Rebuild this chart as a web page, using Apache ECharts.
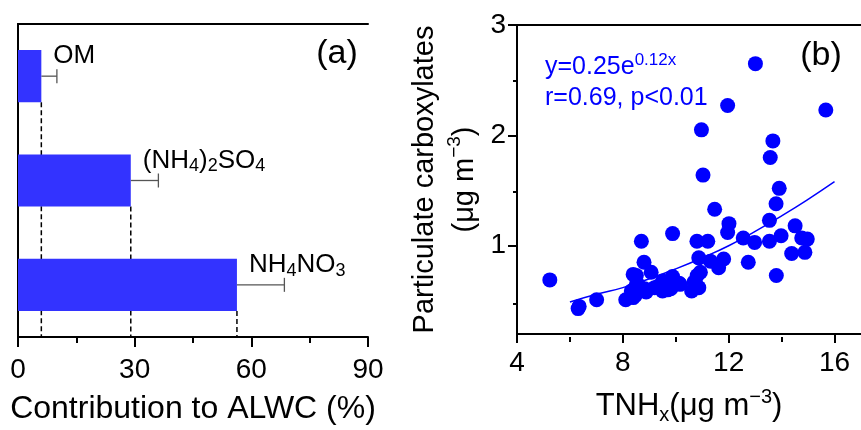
<!DOCTYPE html>
<html><head><meta charset="utf-8">
<script src="https://cdn.jsdelivr.net/npm/echarts@6/dist/echarts.min.js"></script>
<style>html,body{margin:0;padding:0;background:#fff}#c{width:861px;height:430px}</style>
</head><body><div id="c"></div>
<script>
// ---- data ----
const components = ['OM', '(NH4)2SO4', 'NH4NO3'];
const componentLabels = ['OM', '(NH{s|4}){s|2}SO{s|4}', 'NH{s|4}NO{s|3}'];
const contribution = [6.0, 29.0, 56.3];
const contributionErr = [4.0, 7.1, 12.2];
const contributionTicks = [0, 30, 60, 90];

const tnhx = [5.24, 6.31, 6.35, 7.01, 8.11, 8.39, 8.32, 8.47, 8.51, 8.39, 8.51, 8.57, 8.70, 8.80, 8.82, 8.88,
  9.07, 9.20, 9.32, 9.50, 9.57, 9.50, 9.69, 9.81, 9.88, 9.88, 10.13, 10.16, 10.60, 10.69, 10.75, 10.87,
  10.81, 10.93, 10.87, 10.80, 11.21, 11.03, 10.97, 11.31, 11.62, 11.81, 11.47, 11.96, 12.01, 11.96,
  12.55, 12.74, 12.98, 13.01, 13.54, 13.54, 13.57, 13.67, 13.79, 13.91, 13.80, 13.98, 14.38, 14.51,
  14.76, 14.97, 14.88, 15.67];
const carboxylates = [0.69, 0.43, 0.45, 0.51, 0.51, 0.53, 0.59, 0.55, 0.65, 0.74, 0.73, 0.65, 1.04, 0.85, 0.61, 0.58,
  0.76, 0.62, 0.63, 0.68, 0.65, 0.59, 0.60, 0.61, 0.72, 1.11, 0.66, 0.65, 0.59, 0.67, 0.66, 0.62,
  0.73, 0.76, 0.89, 1.04, 1.04, 1.64, 2.05, 0.86, 0.80, 0.88, 1.33, 1.12, 1.20, 2.27,
  1.07, 0.85, 1.03, 2.65, 1.04, 1.23, 1.80, 1.95, 1.38, 1.52, 0.73, 1.09, 0.93, 1.18,
  1.07, 1.06, 0.94, 2.23];
const fitX = [6, 7, 8, 9, 10, 11, 12, 13, 14, 15, 16];
const fitY = [0.49, 0.56, 0.62, 0.70, 0.79, 0.89, 1.00, 1.13, 1.27, 1.42, 1.58];
const tnhxTicks = [4, 8, 12, 16];
const tnhxMinorTicks = [6, 10, 14];
const carbTicks = [1, 2, 3];
const carbMinorTicks = [0.5, 1.5, 2.5];

// ---- chart ----
const FF = 'Liberation Sans, Arial, sans-serif';
const BLUE = '#0000FF';
const BAR = '#3333FF';
const axisLine = { show: true, lineStyle: { color: '#000', width: 2 } };
const chart = echarts.init(document.getElementById('c'), null, { renderer: 'canvas' });

const borderOnly = {
  axisLine: axisLine, axisTick: { show: false }, axisLabel: { show: false },
  splitLine: { show: false }
};

const option = {
  animation: false,
  backgroundColor: '#fff',
  textStyle: { fontFamily: FF, color: '#000' },
  grid: [
    { left: 18, top: 24, width: 350, height: 314 },
    { left: 517, top: 25, width: 349, height: 312 },
    { left: 517, top: 25, width: 349, height: 312 }
  ],
  xAxis: [
    {
      gridIndex: 0, type: 'value', min: 0, max: 90, interval: 30, position: 'bottom',
      axisLine: axisLine,
      axisTick: { show: true, length: 10, lineStyle: { color: '#000', width: 2 } },
      minorTick: { show: true, splitNumber: 2, length: 6, lineStyle: { color: '#000', width: 2 } },
      axisLabel: { fontSize: 28, color: '#000', margin: 19, fontFamily: FF,
        customValues: contributionTicks },
      splitLine: { show: false }, minorSplitLine: { show: false },
      name: 'Contribution to ALWC (%)', nameLocation: 'middle', nameGap: 56,
      nameTextStyle: { fontSize: 32, color: '#000', fontFamily: FF }
    },
    Object.assign({ gridIndex: 0, type: 'value', min: 0, max: 90, position: 'top' }, borderOnly),
    {
      gridIndex: 1, type: 'value', min: 4, max: 17, position: 'bottom',
      axisLine: axisLine,
      axisTick: { show: true, length: 9, customValues: tnhxTicks, lineStyle: { color: '#000', width: 2 } },
      axisLabel: { fontSize: 28, color: '#000', margin: 15, fontFamily: FF, customValues: tnhxTicks },
      splitLine: { show: false },
      name: 'TNH{sub|x}(μg m{sup|−3})', nameLocation: 'middle', nameGap: 53,
      nameTextStyle: {
        fontSize: 31, lineHeight: 38, color: '#000', fontFamily: FF,
        rich: {
          sub: { fontSize: 20, lineHeight: 20, verticalAlign: 'bottom', fontFamily: FF, color: '#000' },
          sup: { fontSize: 20, lineHeight: 16, verticalAlign: 'top', fontFamily: FF, color: '#000' }
        }
      }
    },
    Object.assign({ gridIndex: 1, type: 'value', min: 4, max: 17, position: 'top' }, borderOnly),
    {
      gridIndex: 2, type: 'value', min: 4, max: 17, position: 'bottom',
      axisLine: { show: false },
      axisTick: { show: true, length: 5, customValues: tnhxMinorTicks, lineStyle: { color: '#000', width: 2 } },
      axisLabel: { show: false }, splitLine: { show: false }
    }
  ],
  yAxis: [
    {
      gridIndex: 0, type: 'category', data: components, inverse: true, position: 'left',
      axisLine: axisLine, axisTick: { show: false }, axisLabel: { show: false }, splitLine: { show: false }
    },
    Object.assign({ gridIndex: 0, type: 'value', min: 0, max: 1, position: 'right' }, borderOnly),
    {
      gridIndex: 1, type: 'value', min: 0.2, max: 3, position: 'left',
      axisLine: axisLine,
      axisTick: { show: true, length: 9, customValues: carbTicks, lineStyle: { color: '#000', width: 2 } },
      axisLabel: { fontSize: 28, color: '#000', margin: 11, fontFamily: FF, customValues: carbTicks },
      splitLine: { show: false },
      name: 'Particulate carboxylates\n(μg m{sup|−3})', nameLocation: 'middle', nameGap: 32,
      nameTextStyle: {
        fontSize: 29, lineHeight: 40, color: '#000', fontFamily: FF, align: 'center',
        rich: { sup: { fontSize: 19, lineHeight: 18, verticalAlign: 'top', fontFamily: FF, color: '#000' } }
      }
    },
    {
      gridIndex: 2, type: 'value', min: 0.2, max: 3, position: 'left',
      axisLine: { show: false },
      axisTick: { show: true, length: 4, customValues: carbMinorTicks, lineStyle: { color: '#000', width: 2 } },
      axisLabel: { show: false }, splitLine: { show: false }
    }
  ],
  series: [
    {
      type: 'bar', xAxisIndex: 0, yAxisIndex: 0, data: contribution,
      barWidth: '50%', itemStyle: { color: BAR }, silent: true
    },
    {
      type: 'custom', xAxisIndex: 0, yAxisIndex: 0,
      data: contribution.map((v, i) => [i, v, contributionErr[i]]),
      encode: { x: [1, 2], y: 0 },
      renderItem: function (params, api) {
        const i = api.value(0), v = api.value(1), e = api.value(2);
        const p0 = api.coord([v, i]);
        const p1 = api.coord([v + e, i]);
        const band = api.size([0, 1])[1];
        const cs = params.coordSys;
        const bottom = cs.y + cs.height;
        return {
          type: 'group', children: [
            { type: 'line', shape: { x1: p0[0], y1: p0[1], x2: p1[0], y2: p1[1] }, style: { stroke: '#555', lineWidth: 1.3 } },
            { type: 'line', shape: { x1: p1[0], y1: p1[1] - 7, x2: p1[0], y2: p1[1] + 7 }, style: { stroke: '#555', lineWidth: 1.3 } },
            { type: 'line', shape: { x1: p0[0], y1: p0[1] + band * 0.25, x2: p0[0], y2: bottom }, style: { stroke: '#000', lineWidth: 1.5, lineDash: [5, 3] } },
            {
              type: 'text', x: p0[0] + 12, y: p0[1] - 20,
              style: {
                text: componentLabels[i], fontSize: 26, lineHeight: 30, fontFamily: FF, fill: '#000',
                align: 'left', verticalAlign: 'middle',
                rich: { s: { fontSize: 18, lineHeight: 16, verticalAlign: 'bottom', fontFamily: FF, fill: '#000' } }
              }
            }
          ]
        };
      }
    },
    {
      type: 'scatter', xAxisIndex: 2, yAxisIndex: 2,
      data: tnhx.map((x, i) => [x, carboxylates[i]]),
      symbol: 'circle', symbolSize: 15, itemStyle: { color: BLUE, opacity: 1 }
    },
    {
      type: 'line', xAxisIndex: 2, yAxisIndex: 2,
      data: fitX.map((x, i) => [x, fitY[i]]),
      smooth: true, symbol: 'none', lineStyle: { color: BLUE, width: 1.5 }, z: 3
    }
  ],
  graphic: [
    { type: 'text', x: 337, y: 54, style: { text: '(a)', fontSize: 34, fontFamily: FF, fill: '#000', align: 'center', verticalAlign: 'middle' } },
    { type: 'text', x: 821, y: 56, style: { text: '(b)', fontSize: 34, fontFamily: FF, fill: '#000', align: 'center', verticalAlign: 'middle' } },
    {
      type: 'text', x: 545, y: 67, style: {
        text: 'y=0.25e{sup|0.12x}', fontSize: 25, lineHeight: 30, fontFamily: FF, fill: BLUE,
        align: 'left', verticalAlign: 'middle',
        rich: { sup: { fontSize: 17, lineHeight: 6, verticalAlign: 'top', fontFamily: FF, fill: BLUE } }
      }
    },
    {
      type: 'text', x: 545, y: 98, style: {
        text: 'r=0.69, p<0.01', fontSize: 25, fontFamily: FF, fill: BLUE,
        align: 'left', verticalAlign: 'middle'
      }
    }
  ]
};
chart.setOption(option);
</script>
</body></html>
